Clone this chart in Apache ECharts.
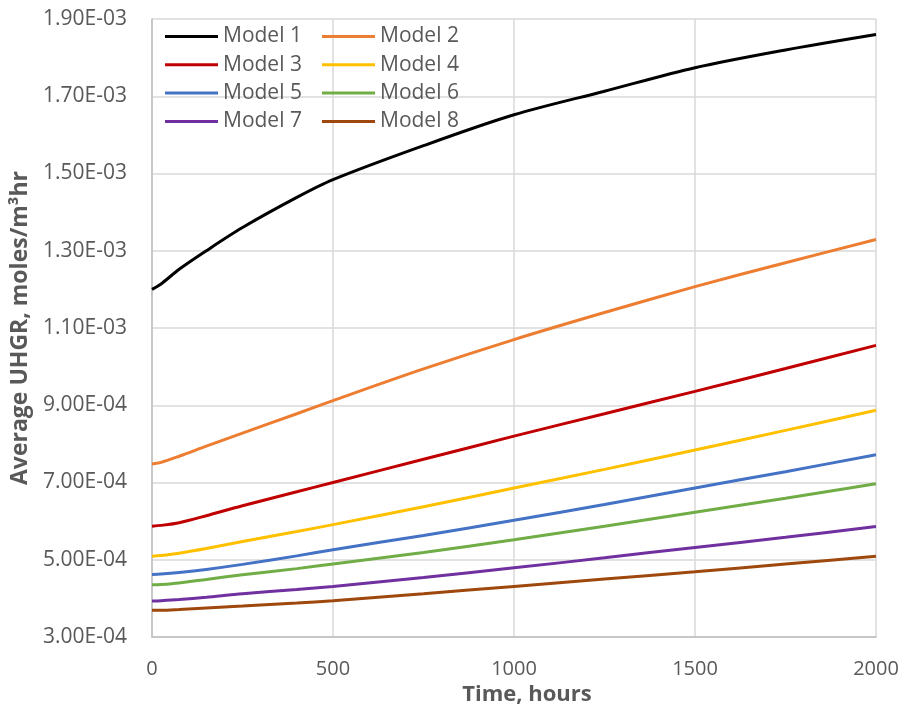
<!DOCTYPE html>
<html lang="en">
  <head>
    <meta charset="UTF-8" />
    <title>Average UHGR</title>
    <script src="https://cdn.jsdelivr.net/npm/echarts@6/dist/echarts.min.js"></script>
    <style>
      html, body { margin: 0; padding: 0; background: #fff; }
    </style>
  </head>
  <body>
    <div id="main" style="width: 904px; height: 723px"></div>
  </body>
  <script type="text/javascript">
    // time points (hours)
    const hours = [0, 25, 75, 150, 250, 400, 500, 750, 1000, 1250, 1500, 1750, 2000];

    // values in units of 1e-4 moles/m3hr
    const model1 = [12.00, 12.14, 12.52, 13.00, 13.60, 14.38, 14.84, 15.72, 16.52, 17.13, 17.74, 18.20, 18.60];
    const model2 = [7.48, 7.52, 7.68, 7.94, 8.28, 8.78, 9.12, 9.94, 10.70, 11.40, 12.07, 12.69, 13.29];
    const model3 = [5.87, 5.89, 5.96, 6.14, 6.40, 6.76, 7.00, 7.60, 8.20, 8.78, 9.36, 9.95, 10.55];
    const model4 = [5.09, 5.11, 5.17, 5.29, 5.47, 5.73, 5.91, 6.37, 6.86, 7.34, 7.84, 8.35, 8.87];
    const model5 = [4.62, 4.63, 4.67, 4.75, 4.88, 5.10, 5.26, 5.63, 6.02, 6.43, 6.86, 7.28, 7.72];
    const model6 = [4.35, 4.36, 4.40, 4.49, 4.61, 4.77, 4.89, 5.19, 5.52, 5.87, 6.23, 6.59, 6.97];
    const model7 = [3.93, 3.94, 3.97, 4.03, 4.12, 4.23, 4.31, 4.54, 4.79, 5.05, 5.32, 5.58, 5.86];
    const model8 = [3.69, 3.69, 3.71, 3.75, 3.80, 3.88, 3.94, 4.12, 4.31, 4.50, 4.69, 4.89, 5.09];

    const names = ["Model 1", "Model 2", "Model 3", "Model 4", "Model 5", "Model 6", "Model 7", "Model 8"];
    const colors = ["#000000", "#ED7D31", "#C00000", "#FFC000", "#4472C4", "#70AD47", "#7030A0", "#9E480E"];
    const allData = [model1, model2, model3, model4, model5, model6, model7, model8];

    const font = "'Open Sans', 'Liberation Sans', sans-serif";
    const grey = "#595959";

    function sci(v) {
      let s = v.toExponential(2).toUpperCase(); // e.g. 1.90E-3
      return s.replace(/E([+-])(\d)$/, "E$10$2");
    }

    var chartDom = document.getElementById("main");
    var myChart = echarts.init(chartDom);
    var option;

    const legendCommon = {
      orient: "vertical",
      top: 21,
      icon: "rect",
      itemWidth: 53,
      itemHeight: 3,
      itemGap: 7.3,
      textStyle: { fontFamily: font, fontSize: 21, color: grey, lineHeight: 21 },
    };

    option = {
      animation: false,
      backgroundColor: "#fff",
      grid: { left: 152, right: 28, top: 19, bottom: 86 },
      legend: [
        Object.assign({ left: 160, data: ["Model 1", "Model 3", "Model 5", "Model 7"] }, legendCommon),
        Object.assign({ left: 317, data: ["Model 2", "Model 4", "Model 6", "Model 8"] }, legendCommon),
      ],
      xAxis: {
        type: "value",
        min: 0,
        max: 2000,
        interval: 500,
        name: "Time, hours",
        nameLocation: "middle",
        nameGap: 44,
        nameTextStyle: { fontFamily: font, fontSize: 22, fontWeight: "bold", color: grey, padding: [0, 0, 0, 26] },
        axisLine: { show: true, lineStyle: { color: "#BFBFBF", width: 1.5 } },
        axisTick: { show: false },
        axisLabel: { fontFamily: font, fontSize: 20, color: grey, margin: 22, formatter: function (v) { return String(v); } },
        splitLine: { show: true, lineStyle: { color: "#D9D9D9", width: 1.5 } },
      },
      yAxis: {
        type: "value",
        min: 3e-4,
        max: 1.9e-3,
        interval: 2e-4,
        name: "Average UHGR, moles/m³hr",
        nameLocation: "middle",
        nameGap: 118,
        nameRotate: 90,
        nameTextStyle: { fontFamily: font, fontSize: 23, fontWeight: "bold", color: grey },
        axisLine: { show: true, lineStyle: { color: "#BFBFBF", width: 1.5 } },
        axisTick: { show: false },
        axisLabel: { fontFamily: font, fontSize: 21, color: grey, margin: 25, formatter: sci },
        splitLine: { show: true, lineStyle: { color: "#D9D9D9", width: 1.5 } },
      },
      series: names.map(function (n, i) {
        return {
          name: n,
          type: "line",
          smooth: 0.3,
          showSymbol: false,
          symbol: "none",
          color: colors[i],
          lineStyle: { width: 3, color: colors[i] },
          data: hours.map(function (h, j) { return [h, allData[i][j] * 1e-4]; }),
        };
      }),
    };

    option && myChart.setOption(option);
  </script>
</html>
